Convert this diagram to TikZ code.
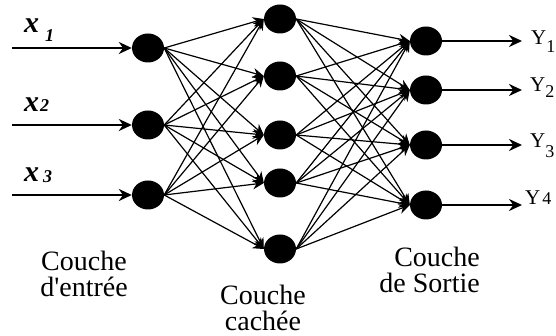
\documentclass[tikz,border=0pt]{standalone}
\usepackage{fontspec}
\setmainfont{Liberation Serif}
\usetikzlibrary{shapes.geometric,arrows.meta}

\begin{document}
\begin{tikzpicture}[x=1pt,y=-1pt,
neur/.style={ellipse,fill=black,minimum width=32pt,minimum height=29pt,inner sep=0pt},
lien/.style={line width=1.2pt,-{Stealth[length=11pt,width=10pt]}},
fleche/.style={line width=2.6pt,-{Stealth[length=13pt,width=12pt]}},
lab/.style={font=\fontsize{28}{26}\selectfont,align=center,inner sep=0pt}]
\useasboundingbox (0,0) rectangle (556,336);
\foreach \i/\y in {1/48,2/125,3/195}{\node[neur] (e\i) at (148,\y) {}; \coordinate (a\i) at (12,\y);}
\foreach \j/\y in {1/19,2/76,3/135,4/183,5/249}{\node[neur] (c\j) at (280,\y) {};}
\foreach \k/\y in {1/41,2/90,3/145,4/205}{\node[neur] (s\k) at (426,\y) {}; \coordinate (b\k) at (522,\y);}
\foreach \i in {1,2,3}{\draw[fleche] (a\i) -- (e\i.west); \foreach \j in {1,...,5}{\draw[lien] (e\i.east) -- (c\j.west);}}
\foreach \j in {1,...,5}{\foreach \k in {1,...,4}{\draw[lien] (c\j.east) -- (s\k.west);}}
\foreach \k in {1,...,4}{\draw[fleche] (s\k.east) -- (b\k);}
% entrees x_i et sorties Y_k
\foreach \i/\y/\d/\g in {1/33/-9/6,2/112/0/1,3/182/-1/4}{\node[anchor=base west,inner sep=0pt] (x\i) at (24,\y) {\fontsize{30}{30}\selectfont\textbf{\textit{x}}\hspace{\g pt}\raisebox{\d pt}{\fontsize{18}{18}\selectfont\textbf{\textit{\i}}}};}
\foreach \k/\y/\d/\g/\x in {1/45/-8/0/531,2/92/-6/0/530,3/148/-10/0/530,4/205/0/2/525}{\node[anchor=base west,inner sep=0pt] (y\k) at (\x,\y) {\fontsize{21}{21}\selectfont Y\hspace{\g pt}\raisebox{\d pt}{\fontsize{18}{18}\selectfont\k}};}
\node[lab] (ce) at (84,274) {Couche\\d\textquotesingle entrée};
\node[lab] (cc) at (263,308) {Couche\\cachée};
\node[lab,align=right,anchor=east] (cs) at (480,270) {Couche\\de Sortie};
\end{tikzpicture}
\end{document}
